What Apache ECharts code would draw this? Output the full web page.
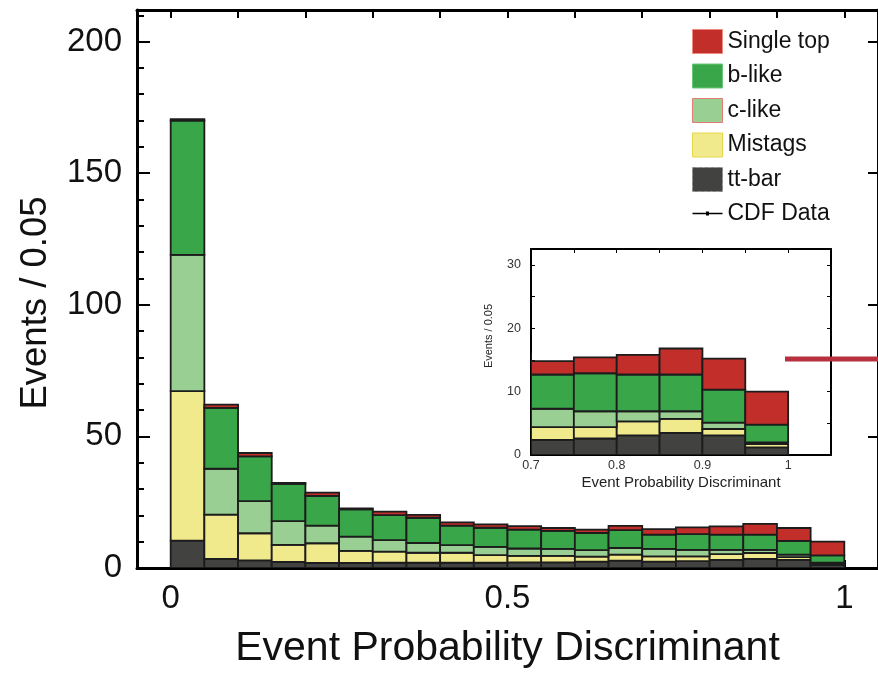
<!DOCTYPE html>
<html>
<head>
<meta charset="utf-8">
<script src="https://cdn.jsdelivr.net/npm/echarts@6/dist/echarts.min.js"></script>
<style>
  html, body { margin: 0; padding: 0; background: #fff; }
  #main { width: 878px; height: 674px; }
</style>
</head>
<body>
<div id="main"></div>
<script>
// bin edges (width 0.05)
var binEdges = [0, 0.05, 0.1, 0.15, 0.2, 0.25, 0.3, 0.35, 0.4, 0.45, 0.5,
                0.55, 0.6, 0.65, 0.7, 0.75, 0.8, 0.85, 0.9, 0.95, 1.0];

// events per bin, stacked bottom -> top
var ttbar     = [10.4, 3.5, 2.9, 2.3, 1.9, 1.9, 2.0, 2.0, 2.0, 2.0, 2.1, 2.1, 2.4, 2.8, 2.4, 2.6, 3.1, 3.5, 3.1, 1.2];
var mistags   = [56.8, 16.8, 10.3, 6.5, 7.5, 4.6, 4.2, 3.8, 3.8, 2.9, 2.5, 2.5, 1.9, 2.3, 2.0, 1.8, 2.2, 2.2, 1.0, 0.5];
var clike     = [51.8, 17.4, 12.2, 9.0, 6.7, 5.4, 4.4, 3.7, 2.9, 3.1, 2.8, 2.7, 2.5, 2.5, 2.9, 2.5, 1.6, 1.2, 1.0, 0.3];
var blike     = [51.0, 23.1, 17.0, 14.2, 11.3, 10.4, 9.5, 9.6, 7.4, 7.3, 7.2, 6.8, 6.5, 6.8, 5.4, 6.0, 5.8, 5.8, 5.2, 2.8];
var singletop = [0.5, 1.3, 1.3, 0.3, 1.2, 0.3, 1.3, 1.1, 1.2, 1.3, 1.3, 1.1, 1.3, 1.6, 2.1, 2.5, 3.1, 4.1, 4.9, 5.2];

// tick positions
var xTicks = [0, 0.1, 0.2, 0.3, 0.4, 0.5, 0.6, 0.7, 0.8, 0.9, 1.0];
var xLabels = [0, 0.5, 1];
var yMajor = [0, 50, 100, 150, 200];
var yMinor = [10, 20, 30, 40, 60, 70, 80, 90, 110, 120, 130, 140, 160, 170, 180, 190, 210];
var insetXTicks = [0.7, 0.75, 0.8, 0.85, 0.9, 0.95, 1.0];
var insetXLabels = [0.7, 0.8, 0.9, 1];
var insetYMajor = [0, 10, 20, 30];
var insetYMinor = [5, 15, 25];

var layers = [
  { name: 'tt-bar', data: ttbar, color: '#424340' },
  { name: 'Mistags', data: mistags, color: '#f1ea8c' },
  { name: 'c-like', data: clike, color: '#99cf92' },
  { name: 'b-like', data: blike, color: '#3aa64a' },
  { name: 'Single top', data: singletop, color: '#c22e2a' }
];

var FONT = '"Liberation Sans", Arial, Helvetica, sans-serif';

function renderBin(params, api) {
  var p0 = api.coord([api.value(0), api.value(3)]);
  var p1 = api.coord([api.value(1), api.value(2)]);
  return {
    type: 'rect',
    shape: { x: p0[0], y: p0[1], width: p1[0] - p0[0], height: p1[1] - p0[1] },
    style: { fill: api.visual('color'), stroke: '#1c1c1c', lineWidth: 1.8 }
  };
}

var base = binEdges.slice(0, 20).map(function () { return 0; });
var series = [];
layers.forEach(function (l) {
  var items = l.data.map(function (v, i) {
    var item = [binEdges[i], binEdges[i + 1], base[i], base[i] + v];
    base[i] += v;
    return item;
  });
  // main plot
  series.push({
    name: l.name, type: 'custom', renderItem: renderBin, clip: true,
    xAxisIndex: 0, yAxisIndex: 0, itemStyle: { color: l.color },
    encode: { x: [0, 1], y: [2, 3] }, data: items
  });
  // inset (same bins, zoomed)
  series.push({
    name: l.name, type: 'custom', renderItem: renderBin, clip: true,
    xAxisIndex: 2, yAxisIndex: 3, itemStyle: { color: l.color },
    encode: { x: [0, 1], y: [2, 3] }, data: items
  });
});
series.push({
  name: 'CDF Data', type: 'line', data: [], xAxisIndex: 0, yAxisIndex: 0,
  symbol: 'rect', symbolSize: 4, itemStyle: { color: '#000' },
  lineStyle: { color: '#000', width: 1.5 }
});

var axisLine3 = { show: true, onZero: false, lineStyle: { color: '#000', width: 3 } };
var axisLine2 = { show: true, onZero: false, lineStyle: { color: '#000', width: 2 } };

var myChart = echarts.init(document.getElementById('main'));

option = {
  backgroundColor: '#fff',
  animation: false,
  textStyle: { fontFamily: FONT },
  grid: [
    { left: 137, top: 10, width: 749, height: 563 },
    { left: 531, top: 249, width: 300, height: 206, show: true, backgroundColor: '#fff', borderWidth: 0 }
  ],
  legend: {
    orient: 'vertical', left: 692, top: 29, padding: 0,
    itemWidth: 30, itemHeight: 24, itemGap: 9.5,
    textStyle: { fontSize: 23, color: '#111', fontFamily: FONT, lineHeight: 24 },
    data: [
      { name: 'Single top', icon: 'rect', itemStyle: { color: '#c22e2a', borderColor: '#f08a7a', borderWidth: 1 } },
      { name: 'b-like', icon: 'rect', itemStyle: { color: '#3aa64a', borderColor: '#6cc878', borderWidth: 1 } },
      { name: 'c-like', icon: 'rect', itemStyle: { color: '#99cf92', borderColor: '#e07e76', borderWidth: 1 } },
      { name: 'Mistags', icon: 'rect', itemStyle: { color: '#f1ea8c', borderColor: '#e6d84a', borderWidth: 1 } },
      { name: 'tt-bar', icon: 'rect', itemStyle: { color: '#424340', borderColor: '#888', borderWidth: 1, borderType: 'dashed' } },
      { name: 'CDF Data', icon: 'path://M0,11.2 L30,11.2 L30,12.8 L0,12.8 Z M13.5,10 L16.5,10 L16.5,14 L13.5,14 Z',
        itemStyle: { color: '#000', borderWidth: 0 } }
    ]
  },
  xAxis: [
    { // main bottom
      gridIndex: 0, type: 'value', min: -0.05, max: 1.05, position: 'bottom',
      name: 'Event Probability Discriminant', nameLocation: 'middle', nameGap: 60,
      nameTextStyle: { fontSize: 41, color: '#111', fontFamily: FONT },
      axisLine: axisLine3,
      axisTick: { show: true, inside: true, length: 8, customValues: xTicks, lineStyle: { color: '#000', width: 2 } },
      axisLabel: { show: true, customValues: xLabels, fontSize: 33, color: '#111', margin: 14, fontFamily: FONT },
      splitLine: { show: false }
    },
    { // main top frame
      gridIndex: 0, type: 'value', min: -0.05, max: 1.05, position: 'top',
      axisLine: axisLine3,
      axisTick: { show: true, inside: true, length: 8, customValues: xTicks, lineStyle: { color: '#000', width: 2 } },
      axisLabel: { show: false }, splitLine: { show: false }
    },
    { // inset bottom
      gridIndex: 1, type: 'value', min: 0.7, max: 1.05, position: 'bottom',
      name: 'Event Probability Discriminant', nameLocation: 'middle', nameGap: 20,
      nameTextStyle: { fontSize: 15, color: '#222', fontFamily: FONT },
      axisLine: axisLine2,
      axisTick: { show: true, inside: true, length: 4, customValues: insetXTicks, lineStyle: { color: '#000', width: 1 } },
      axisLabel: { show: true, customValues: insetXLabels, fontSize: 12.5, color: '#333', margin: 4, fontFamily: FONT },
      splitLine: { show: false }
    },
    { // inset top frame
      gridIndex: 1, type: 'value', min: 0.7, max: 1.05, position: 'top',
      axisLine: axisLine2,
      axisTick: { show: true, inside: true, length: 4, customValues: insetXTicks, lineStyle: { color: '#000', width: 1 } },
      axisLabel: { show: false }, splitLine: { show: false }
    }
  ],
  yAxis: [
    { // main left, major ticks + labels
      gridIndex: 0, type: 'value', min: 0, max: 212, position: 'left',
      name: 'Events / 0.05', nameLocation: 'middle', nameGap: 83,
      nameTextStyle: { fontSize: 36.5, color: '#111', fontFamily: FONT, padding: [0, 28, 0, 0] },
      axisLine: axisLine3,
      axisTick: { show: true, inside: true, length: 13, customValues: yMajor, lineStyle: { color: '#000', width: 2 } },
      axisLabel: { show: true, customValues: yMajor, fontSize: 33, color: '#111', margin: 15, fontFamily: FONT },
      splitLine: { show: false }
    },
    { // main left minor ticks
      gridIndex: 0, type: 'value', min: 0, max: 212, position: 'left',
      axisLine: { show: false, onZero: false },
      axisTick: { show: true, inside: true, length: 7, customValues: yMinor, lineStyle: { color: '#000', width: 2 } },
      axisLabel: { show: false }, splitLine: { show: false }
    },
    { // main right frame
      gridIndex: 0, type: 'value', min: 0, max: 212, position: 'right',
      axisLine: axisLine3,
      axisTick: { show: true, inside: true, length: 10, customValues: yMajor, lineStyle: { color: '#000', width: 2 } },
      axisLabel: { show: false }, splitLine: { show: false }
    },
    { // inset left
      gridIndex: 1, type: 'value', min: 0, max: 32.5, position: 'left',
      name: 'Events / 0.05', nameLocation: 'middle', nameGap: 37,
      nameTextStyle: { fontSize: 11, color: '#222', fontFamily: FONT, padding: [0, 0, 0, 32] },
      axisLine: axisLine2,
      axisTick: { show: true, inside: true, length: 4, customValues: insetYMajor.concat(insetYMinor), lineStyle: { color: '#000', width: 1 } },
      axisLabel: { show: true, customValues: insetYMajor, fontSize: 12.5, color: '#333', margin: 10, fontFamily: FONT },
      splitLine: { show: false }
    },
    { // inset right frame
      gridIndex: 1, type: 'value', min: 0, max: 32.5, position: 'right',
      axisLine: axisLine2,
      axisTick: { show: true, inside: true, length: 4, customValues: insetYMajor.concat(insetYMinor), lineStyle: { color: '#000', width: 1 } },
      axisLabel: { show: false }, splitLine: { show: false }
    }
  ],
  graphic: [
    { type: 'line', shape: { x1: 785, y1: 359, x2: 878, y2: 359 }, style: { stroke: '#b8303e', lineWidth: 5 }, z: 100 }
  ],
  series: series
};

myChart.setOption(option);
</script>
</body>
</html>
